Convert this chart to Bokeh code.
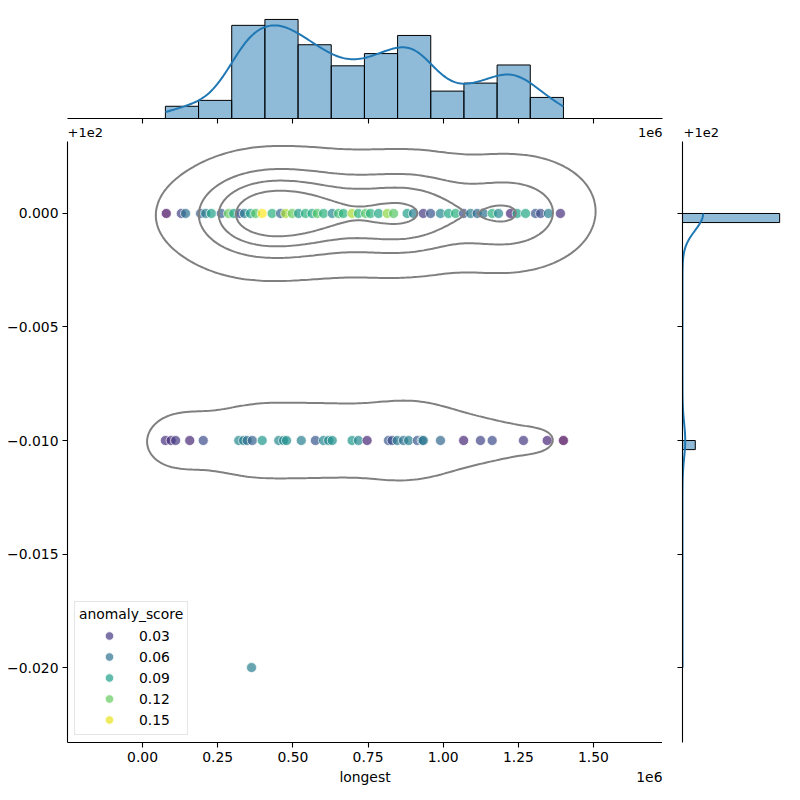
import numpy as np
from bokeh.plotting import figure
from bokeh.layouts import column, row
from bokeh.models import (ColumnDataSource, FixedTicker, CustomJSTickFormatter,
                          Label, Legend, LegendItem, Range1d)
from bokeh.palettes import Viridis256
from bokeh.embed import file_html
from bokeh.resources import INLINE

# ---------------- data ----------------
top_x = [79000, 129000, 143000, 193000, 210000, 229000, 262000, 286000, 303000, 323000,
         339000, 359000, 376000, 398000, 431000, 459000, 476000, 498000, 519000, 542000,
         564000, 581000, 602000, 631000, 652000, 668000, 697000, 718000, 742000, 758000,
         785000, 814000, 835000, 880000, 901000, 934000, 958000, 991000, 1018000, 1041000,
         1068000, 1091000, 1113000, 1134000, 1163000, 1184000, 1224000, 1246000, 1274000, 1307000,
         1324000, 1350000, 1390000]
top_score = [0.010, 0.035, 0.060, 0.050, 0.070, 0.090, 0.050, 0.120, 0.095, 0.040,
             0.070, 0.090, 0.115, 0.155, 0.100, 0.055, 0.135, 0.120, 0.085, 0.100,
             0.095, 0.115, 0.100, 0.075, 0.110, 0.100, 0.135, 0.100, 0.115, 0.100,
             0.095, 0.130, 0.115, 0.090, 0.070, 0.030, 0.045, 0.075, 0.095, 0.100,
             0.040, 0.070, 0.055, 0.060, 0.100, 0.075, 0.020, 0.090, 0.095, 0.045,
             0.040, 0.070, 0.025]
bottom_x = [76000, 95000, 110000, 157000, 202000, 320000, 336000, 348000, 365000, 398000,
            453000, 469000, 479000, 528000, 575000, 602000, 619000, 631000, 697000, 718000,
            747000, 818000, 830000, 847000, 868000, 885000, 914000, 930000, 934000, 991000,
            1068000, 1124000, 1163000, 1267000, 1346000, 1400000]
bottom_score = [0.025, 0.025, 0.030, 0.020, 0.040, 0.075, 0.070, 0.060, 0.050, 0.085,
                0.075, 0.075, 0.080, 0.070, 0.045, 0.075, 0.075, 0.080, 0.085, 0.075,
                0.020, 0.045, 0.040, 0.065, 0.060, 0.070, 0.045, 0.060, 0.065, 0.055,
                0.020, 0.035, 0.040, 0.030, 0.020, 0.005]
outlier_x = [362500]
outlier_score = [0.070]

row_values = [100.0, 99.99, 99.98]      # y value of each row
row_counts = [1329, 175, 1]             # number of records in each row
hist_counts = [29, 43, 221, 235, 175, 125, 154, 197, 65, 84, 127, 50]
y_bins = 50
kde_bw_adjust_x = 1.05
kde_bw_adjust_y = 1.18

legend_values = [0.03, 0.06, 0.09, 0.12, 0.15]
x_ticks = [0, 250000, 500000, 750000, 1000000, 1250000, 1500000]
y_ticks = [99.98, 99.985, 99.99, 99.995, 100.0]

FONT = "DejaVu Sans"
FS = "13.9px"
BLUE = "#1f77b4"

# ---------------- colours ----------------
all_scores = top_score + bottom_score + outlier_score
s_lo, s_hi = min(all_scores), max(all_scores)


def vcolor(s):
    t = (s - s_lo) / (s_hi - s_lo)
    return Viridis256[int(round(min(max(t, 0), 1) * 255))]


# ---------------- layout sizes ----------------
W, H = 800, 800
LB = 67          # left border of main
FW, FH = 595, 601
TOP_BORDER = 14
TOP_H = 104      # marginal frame height
TOP_AX = 6
GAP = 20         # gap between main and right marginal
RW = 102         # right marginal frame width
BOT = 26         # main bottom border (tick labels)
STRIP_T = 17
STRIP_B = H - (TOP_BORDER + TOP_H + TOP_AX + STRIP_T + FH + BOT)

x_range = Range1d(-249600, 1729500)
y_range = Range1d(99.9767, 100.00317)

x_fmt = CustomJSTickFormatter(code="return (tick/1e6).toFixed(2);")
y_fmt = CustomJSTickFormatter(code="var v = tick - 100; if (Math.abs(v) < 1e-9) { v = 0; } return v.toFixed(3).replace('-', '\u2212');")
empty_fmt = CustomJSTickFormatter(code="return '';")


def style_axis(ax, labels=True):
    ax.axis_line_color = "black"
    ax.axis_line_width = 1.1
    ax.major_tick_line_color = "black"
    ax.major_tick_line_width = 1.1
    ax.major_tick_out = 5
    ax.major_tick_in = 0
    ax.minor_tick_line_color = None
    ax.major_label_text_font = FONT
    ax.major_label_text_color = "black"
    if labels:
        ax.major_label_text_font_size = FS
        ax.major_label_standoff = 4
    else:
        ax.formatter = empty_fmt
        ax.major_label_text_font_size = "1px"
        ax.major_label_standoff = 0


def clean(fig):
    fig.grid.visible = False
    fig.outline_line_color = None
    fig.background_fill_color = "white"
    fig.border_fill_color = "white"


# ---------------- main joint plot ----------------
main = figure(frame_width=FW, frame_height=FH, x_range=x_range, y_range=y_range,
              output_backend="svg", toolbar_location=None,
              min_border_left=LB, min_border_right=0, min_border_top=0, min_border_bottom=BOT)
clean(main)
main.xaxis.ticker = FixedTicker(ticks=x_ticks)
main.xaxis.formatter = x_fmt
main.yaxis.ticker = FixedTicker(ticks=y_ticks)
main.yaxis.formatter = y_fmt
style_axis(main.xaxis[0])
style_axis(main.yaxis[0])

sx = top_x + bottom_x + outlier_x
sy = [row_values[0]] * len(top_x) + [row_values[1]] * len(bottom_x) + [row_values[2]] * len(outlier_x)
sc = [vcolor(s) for s in all_scores]
src = ColumnDataSource(dict(x=sx, y=sy, c=sc))
main.scatter("x", "y", source=src, size=10, fill_color="c", fill_alpha=0.7,
             line_color="white", line_alpha=0.7, line_width=1)

# ---------------- marginal histogram of x + KDE ----------------
all_x = np.array(sx, float)
edges = np.linspace(all_x.min(), all_x.max(), len(hist_counts) + 1)
centers = (edges[:-1] + edges[1:]) / 2
binw = edges[1] - edges[0]
hc = np.array(hist_counts, float)
N = hc.sum()

mu = (hc * centers).sum() / N
var = (hc * (centers - mu) ** 2).sum() / (N - 1)
bw1 = np.sqrt(var) * N ** (-1 / 5)
gx = np.linspace(edges[0], edges[-1], 200)
dens_x = (hc[None, :] / N * np.exp(-0.5 * ((gx[:, None] - centers[None, :]) / bw1) ** 2)
          / (np.sqrt(2 * np.pi) * bw1)).sum(axis=1)
curve_x = dens_x * N * binw

top = figure(frame_width=FW, frame_height=TOP_H, x_range=x_range,
             y_range=Range1d(0, 1.05 * hc.max()),
             output_backend="svg", toolbar_location=None,
             min_border_left=LB, min_border_right=W - LB - FW,
             min_border_top=TOP_BORDER, min_border_bottom=TOP_AX)
clean(top)
top.yaxis.visible = False
top.xaxis.ticker = FixedTicker(ticks=x_ticks)
style_axis(top.xaxis[0], labels=False)
top.quad(left=edges[:-1], right=edges[1:], bottom=0, top=hc,
         fill_color=BLUE, fill_alpha=0.5, line_color="black", line_width=1)
top.line(gx, curve_x, line_color=BLUE, line_width=2)

# ---------------- marginal histogram of y + KDE ----------------
rv = np.array(row_values, float)
rc = np.array(row_counts, float)
y_edges = np.linspace(rv.min(), rv.max(), y_bins + 1)
ybw = y_edges[1] - y_edges[0]
yidx = np.clip(np.searchsorted(y_edges, rv, side="left") - 1, 0, y_bins - 1)
ycounts = np.zeros(y_bins)
np.add.at(ycounts, yidx, rc)
nz = ycounts > 0

Ny = rc.sum()
muy = (rc * rv).sum() / Ny
vary = (rc * (rv - muy) ** 2).sum() / (Ny - 1)
bwy = np.sqrt(vary) * Ny ** (-1 / 5)
gy = np.linspace(rv.min(), rv.max(), 200)
dens_y = (rc[None, :] / Ny * np.exp(-0.5 * ((gy[:, None] - rv[None, :]) / bwy) ** 2)
          / (np.sqrt(2 * np.pi) * bwy)).sum(axis=1)
curve_y = dens_y * Ny * ybw

right = figure(frame_width=RW, frame_height=FH, y_range=y_range,
               x_range=Range1d(0, 1.05 * ycounts.max()),
               output_backend="svg", toolbar_location=None,
               min_border_left=GAP, min_border_right=W - LB - FW - GAP - RW,
               min_border_top=0, min_border_bottom=BOT)
clean(right)
right.xaxis.visible = False
right.yaxis.ticker = FixedTicker(ticks=y_ticks)
style_axis(right.yaxis[0], labels=False)
right.quad(left=0, right=ycounts[nz], bottom=y_edges[:-1][nz], top=y_edges[1:][nz],
           fill_color=BLUE, fill_alpha=0.5, line_color="black", line_width=1)
right.line(curve_y, gy, line_color=BLUE, line_width=2)

# ---------------- joint KDE contours ----------------
n_top, n_bot, n_out = row_counts
bx = np.array(bottom_x, float)
ox = np.array(outlier_x, float)
bot_w = np.full(len(bx), n_bot / len(bx))
out_w = np.full(len(ox), n_out / len(ox))
top_w = hc.copy()
np.subtract.at(top_w, np.clip(np.searchsorted(edges, bx, side="right") - 1, 0, len(hc) - 1), bot_w)
np.subtract.at(top_w, np.clip(np.searchsorted(edges, ox, side="right") - 1, 0, len(hc) - 1), out_w)
top_w = np.clip(top_w, 0, None)

u = np.concatenate([centers, bx, ox]) / 1e6
v = (np.concatenate([np.full(len(centers), rv[0]), np.full(len(bx), rv[1]),
                     np.full(len(ox), rv[2])]) - 100.0) * 100.0
w = np.concatenate([top_w, bot_w, out_w])
Nw = w.sum()
wn = w / Nw
mu_u, mu_v = (wn * u).sum(), (wn * v).sum()
du, dv = u - mu_u, v - mu_v
cov = np.array([[(wn * du * du).sum(), (wn * du * dv).sum()],
                [(wn * du * dv).sum(), (wn * dv * dv).sum()]]) * Nw / (Nw - 1)
cov[0, 0] += (binw / 1e6) ** 2 / 12 * (top_w.sum() / Nw)
factor = Nw ** (-1 / 6)
adj = np.diag([kde_bw_adjust_x, kde_bw_adjust_y])
kc = adj @ cov @ adj * factor ** 2
inv = np.linalg.inv(kc)
bw2 = np.sqrt(np.diag(kc))
gu = np.linspace(u.min() - 3 * bw2[0], u.max() + 3 * bw2[0], 200)
gv = np.linspace(v.min() - 3 * bw2[1], v.max() + 3 * bw2[1], 200)
GU, GV = np.meshgrid(gu, gv)
Z = np.zeros_like(GU)
for ui, vi, wi in zip(u, v, w):
    a = GU - ui
    b = GV - vi
    q = inv[0, 0] * a * a + 2 * inv[0, 1] * a * b + inv[1, 1] * b * b
    Z += wi * np.exp(-0.5 * q)

iso = np.linspace(0.05, 1, 5)[:-1]
vals = np.sort(Z.ravel())[::-1]
cs = np.cumsum(vals)
cs /= cs[-1]
levels = [float(x) for x in vals[np.searchsorted(cs, 1 - iso)]]

main.contour(x=GU * 1e6, y=GV / 100.0 + 100.0, z=Z, levels=levels,
             line_color="#808080", line_width=2)

# ---------------- legend ----------------
leg_src = ColumnDataSource(dict(x=[np.nan] * len(legend_values), y=[np.nan] * len(legend_values),
                                c=[vcolor(lv) for lv in legend_values]))
leg_r = main.scatter("x", "y", source=leg_src, size=10, fill_color="c", fill_alpha=0.7,
                     line_color="white", line_alpha=0.7, line_width=1)
items = [LegendItem(label=f"{lv:.2f}", renderers=[leg_r], index=i)
         for i, lv in enumerate(legend_values)]
legend = Legend(items=items, title="anomaly_score", location="bottom_left",
                margin=7, padding=4, spacing=0, glyph_width=60, glyph_height=21,
                label_standoff=0, title_standoff=3,
                label_text_font=FONT, label_text_font_size=FS, label_text_color="black",
                title_text_font=FONT, title_text_font_size=FS, title_text_font_style="normal",
                title_text_color="black",
                border_line_color="#cccccc", border_line_width=1,
                background_fill_color="white", background_fill_alpha=0.8)
main.add_layout(legend)

# ---------------- text strips (offset texts and x-axis title) ----------------
def lab(x, y, text, align, size):
    return Label(x=x, y=y, text=text, text_align=align, x_units="screen", y_units="screen",
                 text_font=FONT, text_font_size=size, text_color="black",
                 text_baseline="middle")


def strip(h):
    f = figure(frame_width=W, frame_height=h, x_range=Range1d(0, 1), y_range=Range1d(0, 1),
               output_backend="svg", toolbar_location=None,
               x_axis_location=None, y_axis_location=None,
               min_border_left=0, min_border_right=0, min_border_top=0, min_border_bottom=0)
    clean(f)
    return f


strip_top = strip(STRIP_T)
mid_t = 9
strip_top.add_layout(lab(LB, mid_t, "+1e2", "left", "13px"))
strip_top.add_layout(lab(LB + FW, mid_t, "1e6", "right", "13px"))
strip_top.add_layout(lab(LB + FW + GAP + 1, mid_t, "+1e2", "left", "13px"))

strip_bot = strip(STRIP_B)
mid_b = STRIP_B - 8.5
strip_bot.add_layout(lab(LB + FW / 2, mid_b, "longest", "center", FS))
strip_bot.add_layout(lab(LB + FW, mid_b, "1e6", "right", FS))

layout = column(top, row(strip_top), row(main, right, spacing=0), row(strip_bot), spacing=0)
open("out.html", "w").write(file_html(layout, INLINE))
